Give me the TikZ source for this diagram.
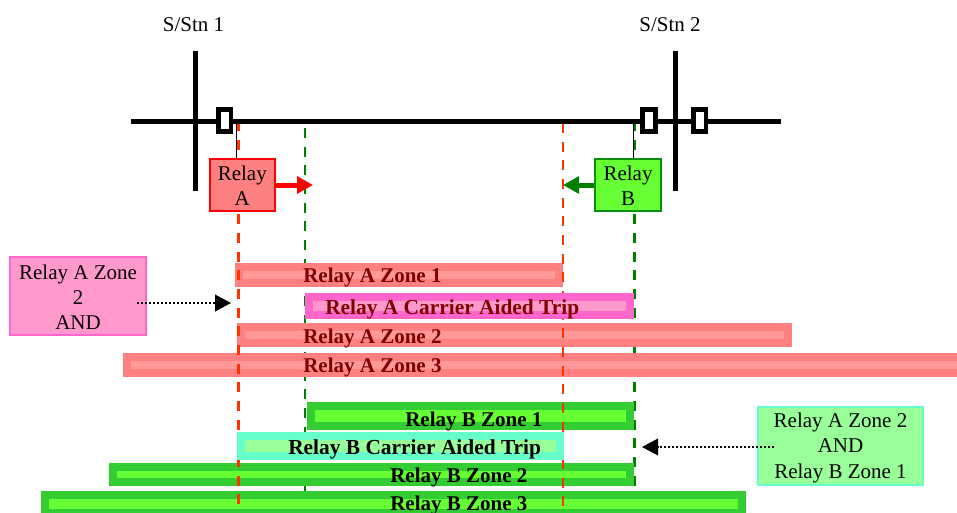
\documentclass[tikz,border=0pt]{standalone}
\usepackage{fontspec}
\setmainfont{Liberation Serif}
\usetikzlibrary{arrows.meta}
\definecolor{zaout}{HTML}{FF8080}
\definecolor{zain}{HTML}{FF9999}
\definecolor{caout}{HTML}{FF66CC}
\definecolor{cain}{HTML}{FF99CC}
\definecolor{zbout}{HTML}{33CC33}
\definecolor{zbin}{HTML}{66FF33}
\definecolor{cbout}{HTML}{66FFCC}
\definecolor{cbin}{HTML}{99FF99}
\definecolor{relayred}{HTML}{FF3300}
\definecolor{relaygrn}{HTML}{008000}
\definecolor{darkred}{HTML}{800000}
\newcommand{\zonebar}[6]{%
  \fill[#5] (#1,#2) rectangle (#3,#4);
  \fill[#6] (#1+8,#2+8) rectangle (#3-8,#4-8);}
\tikzset{
  txt/.style={font=\fontsize{15.75}{18.8}\selectfont,align=center,inner sep=0pt},
  zlabel/.style={font=\fontsize{15.75}{18.8}\selectfont\bfseries,inner sep=0pt,anchor=base west},
  zlabelw/.style={font=\fontsize{16.05}{18.8}\selectfont\bfseries,inner sep=0pt,anchor=base west},
  bus/.style={line width=3.75pt,black},
  ctline/.style={line width=1pt,black},
  breaker/.style={draw=black,fill=white,line width=3.4pt,minimum width=9.4pt,minimum height=16.6pt,inner sep=0pt},
  reddash/.style={line width=2.1pt,relayred,dash pattern=on 7.5pt off 6.5pt},
  grndash/.style={line width=2.1pt,relaygrn,dash pattern=on 7.5pt off 6.5pt},
  relaybox/.style={txt,line width=1.5pt,minimum height=39pt},
  notebox/.style={txt,line width=1.5pt},
  dirarrow/.style={line width=3.75pt,-{Triangle[length=12pt,width=12.5pt]}},
  dotarrow/.style={line width=1.2pt,dash pattern=on 1.4pt off 1.6pt,black,-{Triangle[length=12pt,width=12.5pt,fill=black]}},
}
\begin{document}
\begin{tikzpicture}[x=.75pt,y=-.75pt]
\useasboundingbox (0,0) rectangle (957,512);
\clip (0,0) rectangle (957,512);
% dashed reach lines behind the bars
\draw[grndash] (305,128) -- (305,491);
\draw[grndash] (634.3,121) -- (634.3,487);
% zones
\zonebar{235}{263}{563}{287}{zaout}{zain}
\zonebar{237}{323}{792}{347}{zaout}{zain}
\zonebar{123}{353}{965}{377}{zaout}{zain}
\zonebar{307}{402}{634}{430}{zbout}{zbin}
\zonebar{109}{463}{634}{486}{zbout}{zbin}
\zonebar{41}{491}{746}{517}{zbout}{zbin}
% red reach lines over the zones
\draw[reddash] (238.5,121) -- (238.5,505);
\draw[reddash] (563,123) -- (563,510);
% carrier aided bars
\zonebar{305}{293}{634}{319}{caout}{cain}
\zonebar{237}{432}{564}{460}{cbout}{cbin}
% bus
\draw[bus] (131,121) -- (781,121);
\draw[bus] (195,51) -- (195,191);
\draw[bus] (675,51) -- (675,191);
\node[breaker] (cb1) at (224.5,120.5) {};
\node[breaker] (cb2) at (649,120.5) {};
\node[breaker] (cb3) at (699.5,120.5) {};
\node[txt] (stn1) at (193.5,25) {S/Stn 1};
\node[txt] (stn2) at (670,25) {S/Stn 2};
% relays
\node[relaybox,minimum width=49pt,draw=red,fill=zaout] (relayA) at (242.3,185) {\rule{0pt}{12.3pt}Relay\\A};
\node[relaybox,minimum width=50pt,draw=relaygrn!80!zbout,fill=zbin] (relayB) at (628,185) {\rule{0pt}{12.3pt}Relay\\B};
\coordinate (ctA) at (236.3,121);
\coordinate (ctB) at (633.7,121);
\coordinate (tipA) at (313,185);
\coordinate (tipB) at (563,185);
\draw[ctline] (ctA) -- (ctA |- relayA.north);
\draw[ctline] (ctB) -- (ctB |- relayB.north);
\draw[dirarrow,red] (relayA.east) -- (tipA);
\draw[dirarrow,relaygrn] (relayB.west) -- (tipB);
% zone labels
\node[zlabel,text=darkred] (la1) at (303,282) {Relay A Zone 1};
\node[zlabelw,text=darkred] (lac) at (325,314) {Relay A Carrier Aided Trip};
\node[zlabel,text=darkred] (la2) at (303,343) {Relay A Zone 2};
\node[zlabel,text=darkred] (la3) at (303,372) {Relay A Zone 3};
\node[zlabel] (lb1) at (405,426) {Relay B Zone 1};
\node[zlabelw] (lbc) at (288,454) {Relay B Carrier Aided Trip};
\node[zlabel] (lb2) at (390,482) {Relay B Zone 2};
\node[zlabel] (lb3) at (390,510) {Relay B Zone 3};
% notes
\node[notebox,draw=caout,fill=cain,minimum width=102pt,minimum height=58.5pt] (noteA) at (78,296) {\rule{0pt}{12.3pt}Relay A Zone\\2\\AND};
\node[notebox,draw=cbout,fill=cbin,minimum width=124pt,minimum height=58.5pt] (noteB) at (840.5,446) {\rule{0pt}{13.8pt}Relay A Zone 2\\AND\\Relay B Zone 1};
\coordinate (fromA) at (137,303);
\coordinate (toA) at (231,303);
\coordinate (fromB) at (774,447);
\coordinate (toB) at (642,447);
\draw[dotarrow] (fromA) -- (toA);
\draw[dotarrow] (fromB) -- (toB);
\end{tikzpicture}
\end{document}
